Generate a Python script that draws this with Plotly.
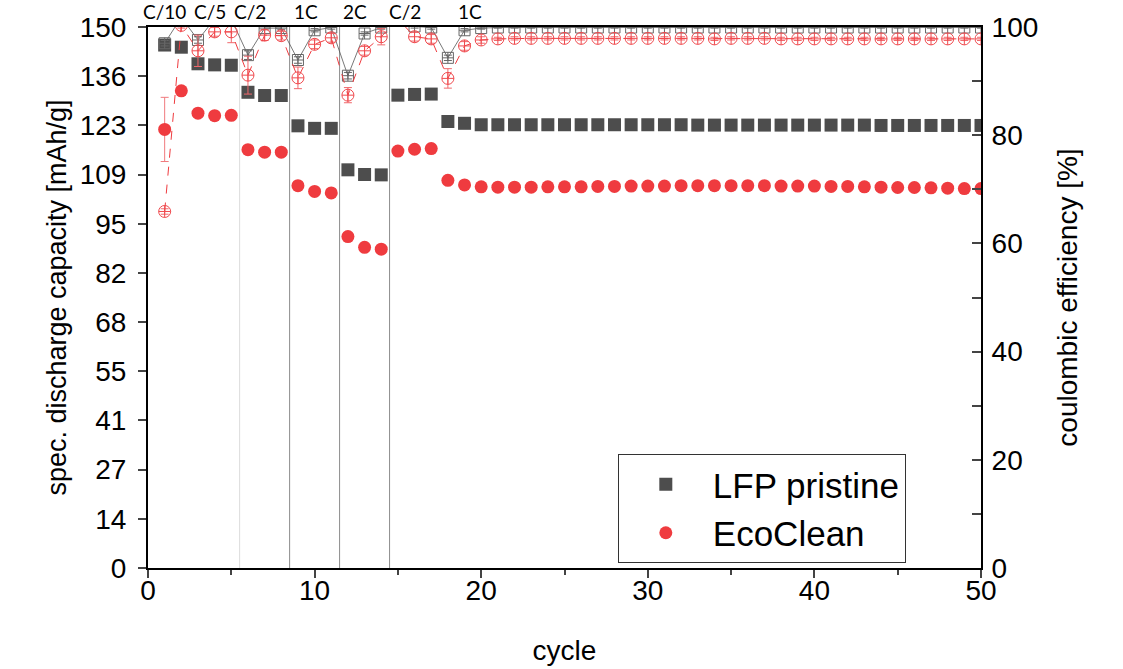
import plotly.graph_objects as go

# ---------------- data ----------------
cycles = list(range(1, 51))

# specific discharge capacity [mAh/g]
cap_pristine = [145.0, 144.4, 139.8, 139.5, 139.4, 131.9, 131.0, 131.0, 122.6, 121.9,
                121.9, 110.4, 109.1, 109.0, 131.1, 131.3, 131.4, 123.8, 123.3, 122.9,
                122.9, 122.9, 122.9, 122.9, 122.9, 122.9, 122.9, 122.9, 122.9, 122.9,
                122.9, 122.9, 122.8, 122.8, 122.8, 122.8, 122.8, 122.8, 122.8, 122.8,
                122.8, 122.8, 122.8, 122.7, 122.7, 122.7, 122.7, 122.7, 122.7, 122.7]
cap_pristine_err = [0.4, 0.4, 0.5, 0.3, 0.3, 0.5, 0.3, 0.3, 1.2, 0.5,
                    0.4, 1.2, 1.0, 1.0, 0.4, 0.4, 0.5, 0.4, 0.3, 0.3] + [0.2] * 30

cap_eco = [121.6, 132.3, 126.1, 125.4, 125.5, 116.0, 115.3, 115.3, 106.0, 104.4,
           104.0, 91.9, 88.9, 88.4, 115.6, 116.1, 116.3, 107.5, 106.2, 105.7,
           105.6, 105.6, 105.6, 105.7, 105.7, 105.7, 105.8, 105.8, 105.9, 105.9,
           105.9, 106.0, 106.0, 106.0, 106.0, 106.0, 106.0, 105.9, 105.9, 105.9,
           105.8, 105.8, 105.7, 105.6, 105.5, 105.5, 105.4, 105.3, 105.2, 105.2]
cap_eco_err = [8.9, 0.4, 0.4, 0.3, 0.3, 0.4, 0.3, 0.3, 0.4, 0.3,
               0.3, 0.4, 0.3, 0.3, 0.3, 0.3, 0.3, 0.3, 0.3, 0.2] + [0.2] * 30

# coulombic efficiency [%]
ce_pristine = [97.0, 101.8, 97.6, 101.5, 101.5, 94.8, 99.8, 99.8, 93.9, 99.4,
               99.9, 91.0, 98.8, 99.9, 101.5, 100.1, 99.9, 94.3, 99.4, 99.8] + [99.9] * 30
ce_pristine_err = [0.5, 0.3, 0.6, 0.3, 0.3, 0.8, 0.3, 0.3, 0.6, 0.3,
                   0.3, 0.6, 0.3, 0.3, 0.3, 0.3, 0.3, 0.5, 0.3, 0.2] + [0.1] * 30

ce_eco = [65.9, 100.3, 95.6, 99.1, 99.1, 91.1, 98.5, 98.4, 90.6, 96.8,
          98.0, 87.4, 95.6, 98.2, 101.5, 98.2, 97.8, 90.5, 96.5, 97.6,
          97.8, 97.9, 97.9, 97.9, 97.9, 97.9, 97.9, 97.9, 97.9, 97.9,
          97.9, 97.9, 97.9, 97.8, 97.9, 97.9, 97.9, 97.8, 97.8, 97.8,
          97.8, 97.8, 97.8, 97.8, 97.8, 97.8, 97.8, 97.8, 97.8, 97.8]
ce_eco_err = [0.5, 0.5, 2.9, 0.8, 2.0, 3.5, 1.0, 0.8, 2.0, 0.8,
              0.8, 1.4, 0.8, 1.5, 0.5, 0.8, 0.8, 1.8, 0.8, 0.6] + [0.3] * 30

# rate steps
rate_labels = ["C/10", "C/5", "C/2", "1C", "2C", "C/2", "1C"]
rate_label_cycles = [1.0, 3.7, 6.1, 9.5, 12.4, 15.4, 19.3]
rate_boundaries = [5.5, 8.5, 11.5, 14.5]
rate_boundary_colors = ["#dcdcdc", "#8c8c8c", "#8c8c8c", "#8c8c8c"]

cap_tick_values = [0, 13.64, 27.27, 40.91, 54.55, 68.18, 81.82, 95.45, 109.09, 122.73, 136.36, 150]
cap_tick_labels = ["0", "14", "27", "41", "55", "68", "82", "95", "109", "123", "136", "150"]
ce_tick_values = [0, 20, 40, 60, 80, 100]
x_tick_values = [0, 10, 20, 30, 40, 50]

# ---------------- style ----------------
GREY = "#4d4d4d"
RED = "#ef3b3f"
FONT = "Liberation Sans, Arial, sans-serif"

fig = go.Figure()

# capacity
fig.add_trace(go.Scatter(
    x=cycles, y=cap_pristine, mode="markers", name="LFP pristine",
    marker=dict(symbol="square", size=13, color=GREY),
    error_y=dict(type="data", array=cap_pristine_err, color=GREY, thickness=1, width=4),
))
fig.add_trace(go.Scatter(
    x=cycles, y=cap_eco, mode="markers", name="EcoClean",
    marker=dict(symbol="circle", size=13, color=RED),
    error_y=dict(type="data", array=cap_eco_err, color="#f07a7d", thickness=1, width=4),
))

# coulombic efficiency
fig.add_trace(go.Scatter(
    x=cycles, y=ce_pristine, mode="lines+markers", yaxis="y2", showlegend=False,
    line=dict(color="#555555", width=0.8),
    marker=dict(symbol="square-cross-open", size=11, color="#666666", line=dict(width=1)),
    error_y=dict(type="data", array=ce_pristine_err, color="#666666", thickness=1, width=4),
))
fig.add_trace(go.Scatter(
    x=cycles, y=ce_eco, mode="lines+markers", yaxis="y2", showlegend=False,
    line=dict(color=RED, width=1, dash="dash"),
    marker=dict(symbol="circle-cross-open", size=12, color="#f04a4e", line=dict(width=1)),
    error_y=dict(type="data", array=ce_eco_err, color="#f0686c", thickness=1, width=4),
))

for xb, col in zip(rate_boundaries, rate_boundary_colors):
    fig.add_shape(type="line", xref="x", yref="paper", x0=xb, x1=xb, y0=0, y1=1,
                  line=dict(color=col, width=1), layer="below")

for lab, xc in zip(rate_labels, rate_label_cycles):
    fig.add_annotation(x=xc, y=1.0, xref="x", yref="paper", text=lab, showarrow=False,
                       yanchor="bottom", yshift=2, font=dict(family="Lato", size=19, color="black"))

fig.update_layout(
    width=1123, height=669,
    margin=dict(l=148, r=142, t=27, b=101),
    paper_bgcolor="white", plot_bgcolor="white",
    font=dict(family=FONT, color="black"),
    xaxis=dict(range=[0, 50], tickvals=x_tick_values, ticks="outside", ticklen=8, tickwidth=1.5,
               minor=dict(dtick=5, ticks="outside", ticklen=5, tickwidth=1.5),
               showline=True, linecolor="black", linewidth=2, mirror=True, automargin=False,
               showgrid=False, zeroline=False, tickfont=dict(size=28), ticklabelstandoff=-12,
               title=dict(text="cycle", font=dict(size=28), standoff=36)),
    yaxis=dict(range=[0, 150], tickvals=cap_tick_values, ticktext=cap_tick_labels,
               ticks="outside", ticklen=8, tickwidth=1.5, automargin=False, ticklabelstandoff=6,
               showline=True, linecolor="black", linewidth=2,
               showgrid=False, zeroline=False, tickfont=dict(size=28),
               title=dict(text="spec. discharge capacity [mAh/g]", font=dict(size=27), standoff=5)),
    yaxis2=dict(range=[0, 100], overlaying="y", side="right", tickvals=ce_tick_values,
                ticks="inside", ticklen=9, tickwidth=1.5, automargin=False, ticklabelstandoff=3,
                minor=dict(dtick=10, ticks="inside", ticklen=9, tickwidth=1.5),
                showline=True, linecolor="black", linewidth=2,
                showgrid=False, zeroline=False, tickfont=dict(size=28),
                title=dict(text="coulombic efficiency [%]", font=dict(size=28), standoff=20)),
    legend=dict(x=0.564, y=0.11, xanchor="left", yanchor="middle",
                bgcolor="white", bordercolor="#333333", borderwidth=1,
                font=dict(size=35, family=FONT), itemwidth=84, tracegroupgap=0),
)

fig.write_html("out.html", config={"displayModeBar": False},
               post_script="document.body.style.margin='0px';")
